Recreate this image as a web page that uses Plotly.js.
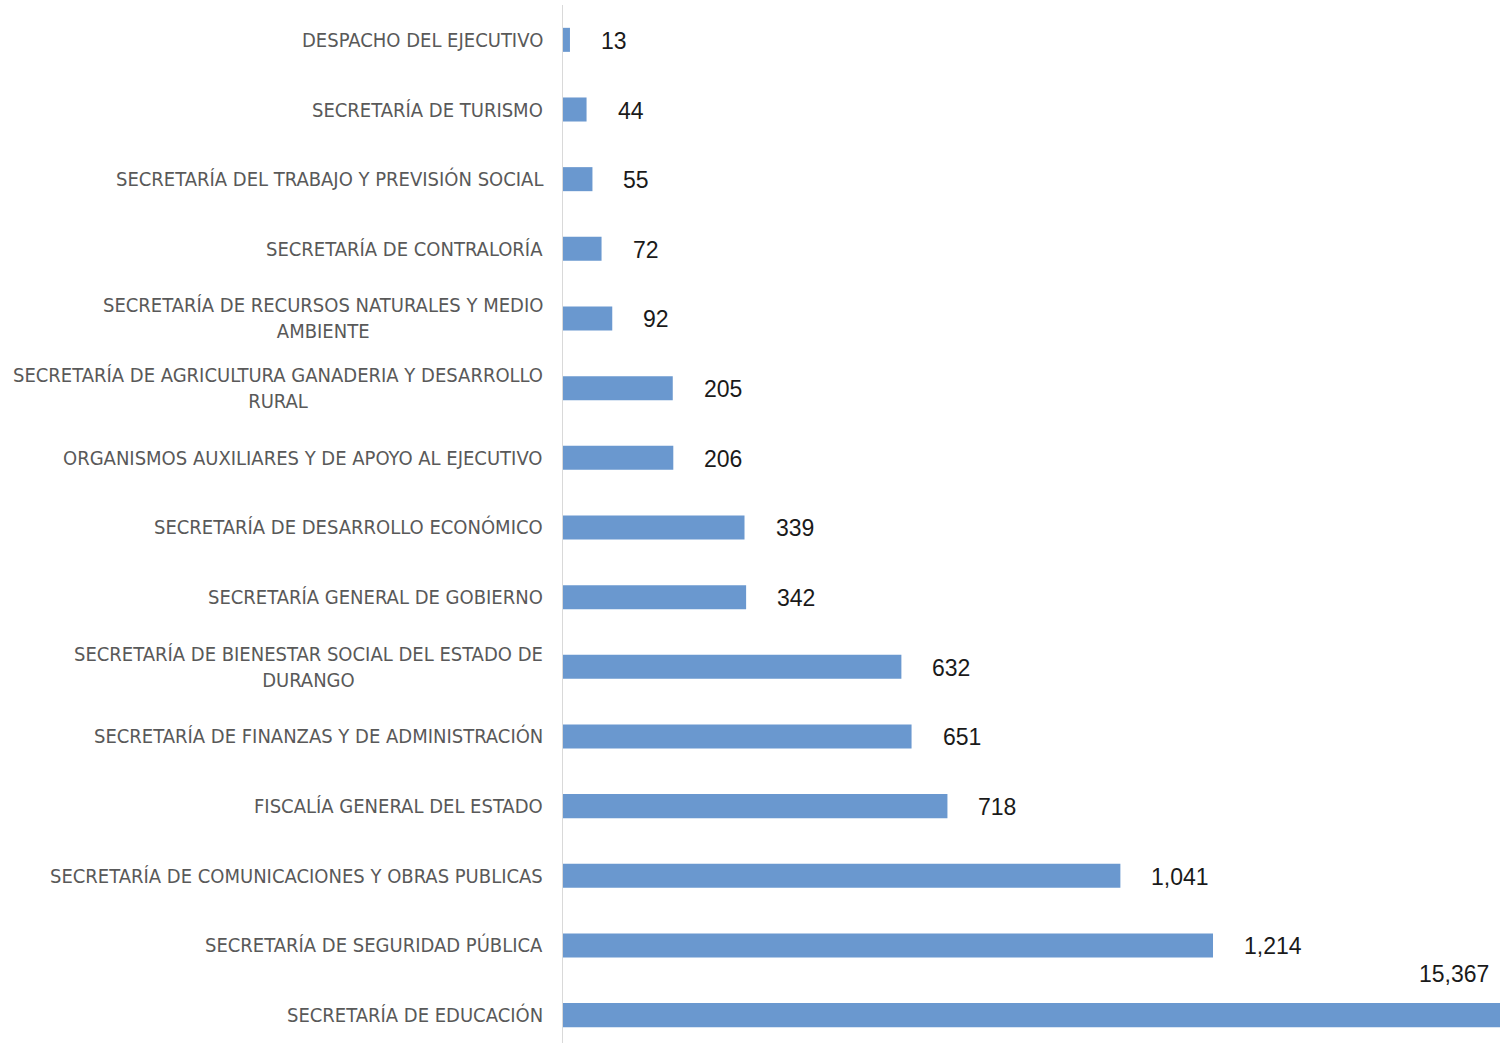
<!DOCTYPE html>
<html>
<head>
<meta charset="utf-8">
<script src="https://cdn.plot.ly/plotly-3.0.1.min.js"></script>
<style>html,body{margin:0;padding:0;background:#fff;}#chart{width:1500px;height:1043px;}</style>
</head>
<body>
<div id="chart"></div>
<script>
// Data
const categories = [
  "DESPACHO DEL EJECUTIVO",
  "SECRETARÍA DE TURISMO",
  "SECRETARÍA DEL TRABAJO Y PREVISIÓN SOCIAL",
  "SECRETARÍA DE CONTRALORÍA",
  "SECRETARÍA DE RECURSOS NATURALES Y MEDIO<br>AMBIENTE",
  "SECRETARÍA DE AGRICULTURA GANADERIA Y DESARROLLO<br>RURAL",
  "ORGANISMOS AUXILIARES Y DE APOYO AL EJECUTIVO",
  "SECRETARÍA DE DESARROLLO ECONÓMICO",
  "SECRETARÍA GENERAL DE GOBIERNO",
  "SECRETARÍA DE BIENESTAR SOCIAL DEL ESTADO DE<br>DURANGO",
  "SECRETARÍA DE FINANZAS Y DE ADMINISTRACIÓN",
  "FISCALÍA GENERAL DEL ESTADO",
  "SECRETARÍA DE COMUNICACIONES Y OBRAS PUBLICAS",
  "SECRETARÍA DE SEGURIDAD PÚBLICA",
  "SECRETARÍA DE EDUCACIÓN"
];
const values = [13, 44, 55, 72, 92, 205, 206, 339, 342, 632, 651, 718, 1041, 1214, 15367];
const xMax = 1750;

const fmt = v => v.toLocaleString('en-US');
const numFont = {family: 'Liberation Sans, Arial, sans-serif', size: 23, color: '#1a1a1a'};
const catFont = {family: 'Liberation Sans Narrow, DejaVu Sans Condensed, Arial, sans-serif', size: 20, color: '#595959'};

// value labels
const valueAnn = values.map((v, i) => {
  if (v > xMax) {
    return {x: xMax, y: i, xref: 'x', yref: 'y', text: fmt(v), showarrow: false,
      xanchor: 'right', yanchor: 'middle', xshift: -9, yshift: 41, font: numFont};
  }
  return {x: v, y: i, xref: 'x', yref: 'y', text: fmt(v), showarrow: false,
    xanchor: 'left', yanchor: 'middle', xshift: 29, yshift: -1, font: numFont};
});

// category labels (centred multi-line, right-aligned block)
const catAnn = categories.map((c, i) => ({
  x: 0, y: i, xref: 'paper', yref: 'y', text: c, showarrow: false,
  xanchor: 'right', yanchor: 'middle', align: 'center', xshift: -18, font: catFont
}));

const trace = {
  type: 'bar',
  orientation: 'h',
  x: values,
  y: categories.map((c, i) => i),
  width: 0.345,
  marker: {color: '#6a98cf', line: {width: 0}},
  cliponaxis: true,
  hoverinfo: 'none'
};

const layout = {
  width: 1500, height: 1043,
  margin: {l: 563, r: 0, t: 5, b: 0},
  paper_bgcolor: '#ffffff', plot_bgcolor: '#ffffff',
  showlegend: false,
  xaxis: {range: [0, xMax], visible: false, fixedrange: true},
  yaxis: {
    range: [14.4, -0.5],
    showline: true, linecolor: '#d9d9d9', linewidth: 1,
    showgrid: false, zeroline: false, ticks: '', showticklabels: false,
    fixedrange: true
  },
  annotations: catAnn.concat(valueAnn)
};

Plotly.newPlot('chart', [trace], layout, {displayModeBar: false, staticPlot: true});
</script>
</body>
</html>
